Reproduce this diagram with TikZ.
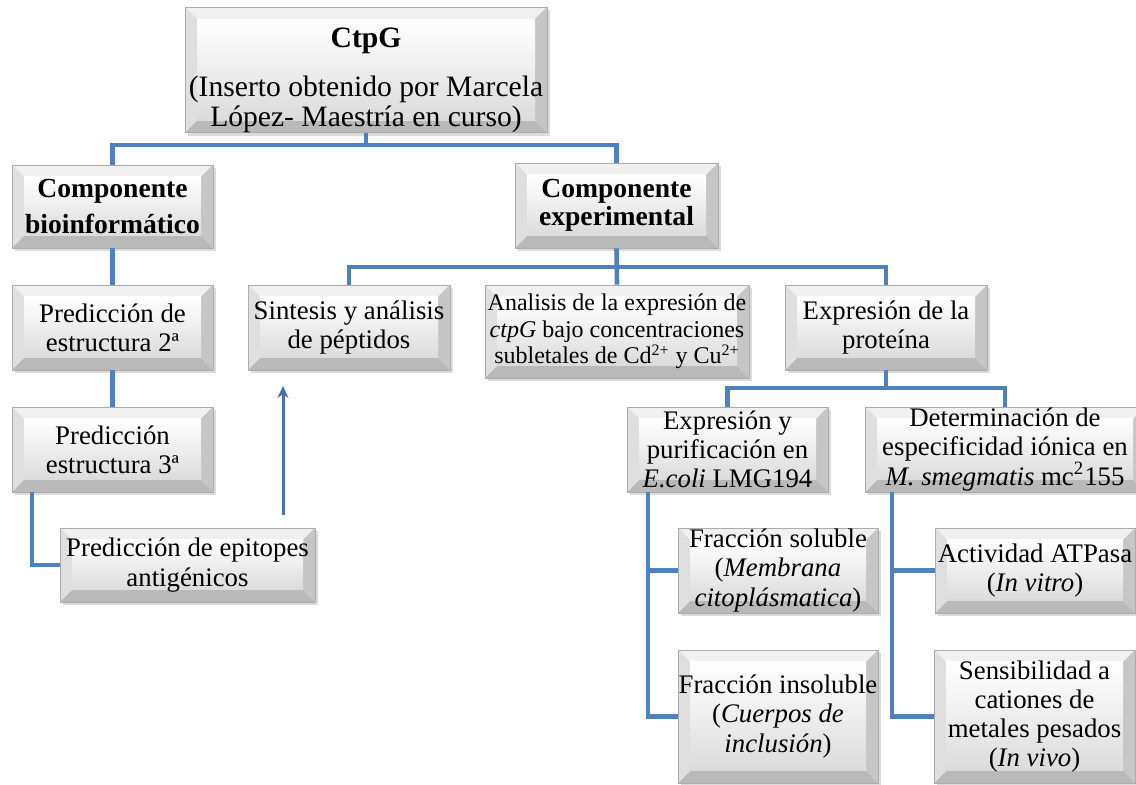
\documentclass[tikz,border=0pt]{standalone}
\usepackage{fontspec}
\setmainfont{Liberation Serif}
\usetikzlibrary{shadows,arrows.meta}
\definecolor{lnblue}{HTML}{4F81BD}
\definecolor{arblue}{HTML}{4670B0}
\newcommand\mytxtfont{\rmfamily\mdseries\fontsize{13.4pt}{14.6pt}\selectfont}
\newcommand\mysmallfont{\rmfamily\fontsize{12pt}{13.3pt}\selectfont}
\newcommand\mytopfont{\rmfamily\fontsize{14.8pt}{14.8pt}\selectfont}
\newcommand\myboldfont{\rmfamily\fontsize{13.8pt}{13.8pt}\selectfont\bfseries}
\tikzset{
  sz/.style 2 args={minimum width=#1*0.5pt, minimum height=#2*0.5pt},
  bx/.style={rectangle, draw=gray!65, line width=0.4pt, fill=gray!30,
    inner sep=0pt, align=center, font=\mytxtfont, text=black,
    drop shadow={shadow xshift=1.6pt, shadow yshift=-1.6pt, opacity=0.35, fill=gray!80},
    path picture={
      \fill[gray!12] (path picture bounding box.north west) -- (path picture bounding box.north east)
        -- ([xshift=-6pt,yshift=-6pt]path picture bounding box.north east)
        -- ([xshift=6pt,yshift=-6pt]path picture bounding box.north west) -- cycle;
      \fill[gray!55] (path picture bounding box.south west) -- (path picture bounding box.south east)
        -- ([xshift=-6pt,yshift=6pt]path picture bounding box.south east)
        -- ([xshift=6pt,yshift=6pt]path picture bounding box.south west) -- cycle;
      \fill[gray!25] (path picture bounding box.north west) -- (path picture bounding box.south west)
        -- ([xshift=6pt,yshift=6pt]path picture bounding box.south west)
        -- ([xshift=6pt,yshift=-6pt]path picture bounding box.north west) -- cycle;
      \fill[gray!45] (path picture bounding box.north east) -- (path picture bounding box.south east)
        -- ([xshift=-6pt,yshift=6pt]path picture bounding box.south east)
        -- ([xshift=-6pt,yshift=-6pt]path picture bounding box.north east) -- cycle;
      \shade[top color=white, bottom color=gray!28]
        ([xshift=6pt,yshift=-6pt]path picture bounding box.north west)
        rectangle ([xshift=-6pt,yshift=6pt]path picture bounding box.south east);
    }},
  ln/.style={draw=lnblue, line width=2.3pt},
  arr/.style={draw=arblue, line width=1.5pt, -{Stealth[length=6pt,width=5.5pt]}}
}
\begin{document}
\begin{tikzpicture}[x=0.5pt,y=-0.5pt]
\useasboundingbox (0,0) rectangle (1136,785);

\node[bx, sz={362}{116}, font=\mytopfont] (top) at (366,70)
  {\rule{0pt}{20pt}\textbf{CtpG}\\[10pt](Inserto obtenido por Marcela\\López- Maestría en curso)};
\node[bx, sz={201}{83}, font=\myboldfont] (bio) at (112.5,206.5) {Componente\\[4pt]bioinformático};
\node[bx, sz={203}{85}, font=\myboldfont] (exp) at (616.5,205.5) {Componente\\experimental};
\node[bx, sz={201}{85}] (p2) at (112.5,327.5) {Predicción de\\estructura 2ª};
\node[bx, sz={201}{85}] (p3) at (112.5,449.5) {Predicción\\estructura 3ª};
\node[bx, sz={255}{74}] (epi) at (187.5,565) {Predicción de epitopes\\antigénicos};
\node[bx, sz={202}{85}] (sin) at (349,327.5) {Sintesis y análisis\\de péptidos};
\node[bx, sz={264}{93}, font=\mysmallfont] (ana) at (617,331.5)
  {Analisis de la expresión de\\\textit{ctpG} bajo concentraciones\\subletales de Cd\textsuperscript{2+} y Cu\textsuperscript{2+}};
\node[bx, sz={202}{85}] (pro) at (886,327.5) {Expresión de la\\proteína};
\node[bx, sz={201}{85}] (eco) at (727.5,449.5) {Expresión y\\purificación en\\\textit{E.coli} LMG194};
\node[bx, sz={280}{85}] (msm) at (1005,449.5) {Determinación de\\especificidad iónica en\\\textit{M. smegmatis} mc\textsuperscript{2}155};
\node[bx, sz={200}{85}] (fsol) at (778,570.5) {Fracción soluble\\(\textit{Membrana}\\\textit{citoplásmatica})};
\node[bx, sz={200}{133}] (fins) at (778,716.5) {Fracción insoluble\\(\textit{Cuerpos de}\\\textit{inclusión})};
\node[bx, sz={200}{85}] (atp) at (1035,570.5) {Actividad ATPasa\\(\textit{In vitro})};
\node[bx, sz={201}{133}] (sen) at (1034.5,716.5) {Sensibilidad a\\cationes de\\metales pesados\\(\textit{In vivo})};

\coordinate (j1) at (366,145);
\draw[ln] (top.south) -- (j1);
\draw[ln] (bio.north) |- (j1) -| (exp.north);
\draw[ln] (bio.south) -- (p2.north);
\draw[ln] (p2.south) -- (p3.north);
\coordinate (e1) at (32,492);
\draw[ln] (e1) |- (epi.west);

\coordinate (a0) at (283,515);
\coordinate (a1) at (283,386);
\draw[arr] (a0) -- (a1);

\coordinate (j2) at (617,267);
\draw[ln] (exp.south) -- (ana.north);
\draw[ln] (sin.north) |- (j2) -| (pro.north);

\coordinate (j3) at (886,388);
\draw[ln] (pro.south) -- (j3);
\draw[ln] (eco.north) |- (j3) -| (msm.north);

\coordinate (l1) at (648,492);
\draw[ln] (l1) |- (fins.west);
\draw[ln] (l1 |- fsol.west) -- (fsol.west);
\coordinate (r1) at (892,492);
\draw[ln] (r1) |- (sen.west);
\draw[ln] (r1 |- atp.west) -- (atp.west);
\end{tikzpicture}
\end{document}
